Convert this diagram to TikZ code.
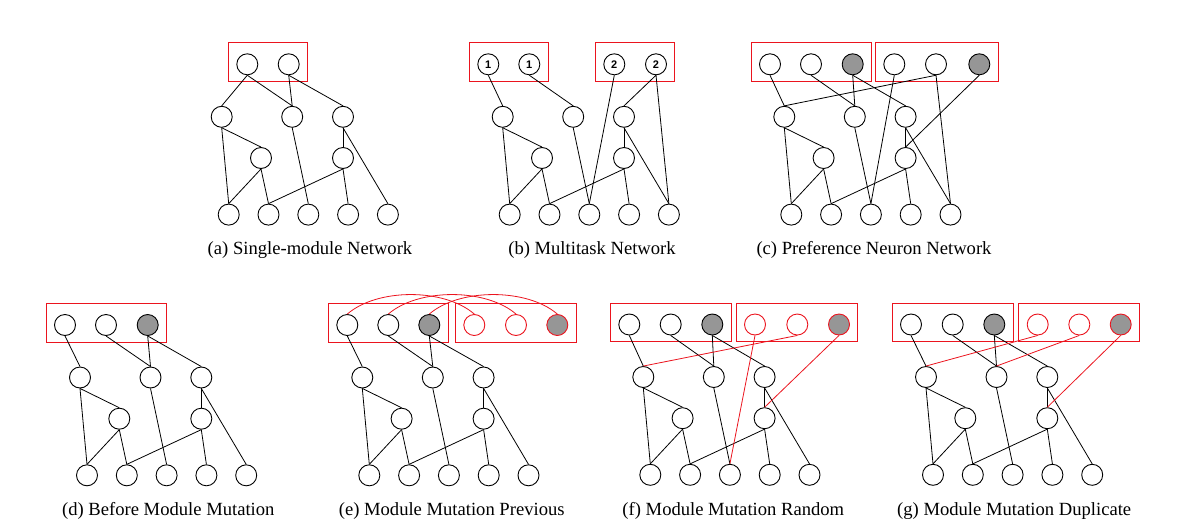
\documentclass[tikz,border=0pt]{standalone}
\usepackage{fontspec}
\setmainfont{Liberation Serif}
\newfontfamily\labfont{Liberation Sans}
\usetikzlibrary{fit}
\definecolor{gfill}{RGB}{150,150,150}
\definecolor{rline}{RGB}{235,20,30}
\tikzset{
  nn/.style={circle, draw, line width=0.9pt, minimum size=21pt, inner sep=0pt},
  rn/.style={nn, draw=rline},
  gn/.style={nn, fill=gfill},
  rgn/.style={nn, draw=rline, fill=gfill},
  rbox/.style={draw=rline, line width=1pt, inner xsep=8pt, inner ysep=8.5pt, yshift=2pt},
  ed/.style={line width=0.8pt},
  redge/.style={line width=0.8pt, draw=rline},
  capt/.style={anchor=base, font=\fontsize{18.6}{22}\selectfont, inner sep=0pt},
  numlab/.style={font=\labfont\bfseries\fontsize{11}{13}\selectfont}
}
\newcommand{\lowernet}[3]{%
  \node[nn] (#1h1) at (#2,#3+52.5) {};
  \node[nn] (#1h2) at (#2+70.5,#3+52.5) {};
  \node[nn] (#1h3) at (#2+121.3,#3+52.5) {};
  \node[nn] (#1m1) at (#2+39.3,#3+93.7) {};
  \node[nn] (#1m2) at (#2+121.3,#3+93.7) {};
  \node[nn] (#1b1) at (#2+7,#3+150.3) {};
  \node[nn] (#1b2) at (#2+46.8,#3+150.3) {};
  \node[nn] (#1b3) at (#2+86.6,#3+150.3) {};
  \node[nn] (#1b4) at (#2+126.4,#3+150.3) {};
  \node[nn] (#1b5) at (#2+166.2,#3+150.3) {};
  \draw[ed] (#1h1.south) -- (#1m1.north);
  \draw[ed] (#1h1.south) -- (#1b1.north);
  \draw[ed] (#1m1.south) -- (#1b1.north);
  \draw[ed] (#1m1.south) -- (#1b2.north);
  \draw[ed] (#1h2.south) -- (#1b3.north);
  \draw[ed] (#1h3.south) -- (#1m2.north);
  \draw[ed] (#1h3.south) -- (#1b5.north);
  \draw[ed] (#1m2.south) -- (#1b2.north);
  \draw[ed] (#1m2.south) -- (#1b4.north);
}
\begin{document}
\begin{tikzpicture}[x=1pt,y=-1pt]
\useasboundingbox (0,0) rectangle (1181,528);
% ---------- (a)
\node[nn] (a1) at (247.3,64.3) {};
\node[nn] (a2) at (288.7,64.3) {};
\node[rbox, fit=(a1)(a2)] (abox) {};
\lowernet{a}{221.7}{64.3}
\draw[ed] (a1.south) -- (ah1.north);
\draw[ed] (a1.south) -- (ah2.north);
\draw[ed] (a2.south) -- (ah2.north);
\draw[ed] (a2.south) -- (ah3.north);
\node[capt] (acap) at (310,254) {(a) Single-module Network};
% ---------- (b)
\node[nn, numlab] (b1) at (488.3,64.3) {1};
\node[nn, numlab] (b2) at (529.3,64.3) {1};
\node[nn, numlab] (b3) at (614.3,64.3) {2};
\node[nn, numlab] (b4) at (656,64.3) {2};
\node[rbox, fit=(b1)(b2)] (bbox1) {};
\node[rbox, fit=(b3)(b4)] (bbox2) {};
\lowernet{b}{502.7}{64.3}
\draw[ed] (b1.south) -- (bh1.north);
\draw[ed] (b2.south) -- (bh2.north);
\draw[ed] (b3.south) -- (bb3.north);
\draw[ed] (b4.south) -- (bh3.north);
\draw[ed] (b4.south) -- (bb5.north);
\node[capt] (bcap) at (592,254) {(b) Multitask Network};
% ---------- (c)
\node[nn] (c1) at (770,64.3) {};
\node[nn] (c2) at (811,64.3) {};
\node[gn] (c3) at (852.7,64.3) {};
\node[nn] (c4) at (894.3,64.3) {};
\node[nn] (c5) at (936,64.3) {};
\node[gn] (c6) at (979.3,64.3) {};
\node[rbox, fit=(c1)(c3)] (cbox1) {};
\node[rbox, fit=(c4)(c6)] (cbox2) {};
\lowernet{c}{784.3}{64.3}
\draw[ed] (c1.south) -- (ch1.north);
\draw[ed] (c2.south) -- (ch2.north);
\draw[ed] (c3.south) -- (ch2.north);
\draw[ed] (c3.south) -- (ch3.north);
\draw[ed] (c4.south) -- (cb3.north);
\draw[ed] (c5.south) -- (ch1.north);
\draw[ed] (c5.south) -- (cb5.north);
\draw[ed] (c6.south) -- (cm2.north);
\node[capt] (ccap) at (874,254) {(c) Preference Neuron Network};
% ---------- (d)
\node[nn] (d1) at (65,325) {};
\node[nn] (d2) at (106,325) {};
\node[gn] (d3) at (147.7,325) {};
\node[rbox, fit=(d1)(d3)] (dbox) {};
\lowernet{d}{80}{325}
\draw[ed] (d1.south) -- (dh1.north);
\draw[ed] (d2.south) -- (dh2.north);
\draw[ed] (d3.south) -- (dh2.north);
\draw[ed] (d3.south) -- (dh3.north);
\node[capt] (dcap) at (168.3,515) {(d) Before Module Mutation};
% ---------- (e)
\node[nn] (e1) at (347.3,325) {};
\node[nn] (e2) at (388.3,325) {};
\node[gn] (e3) at (429.3,325) {};
\node[rn] (e4) at (474.3,325) {};
\node[rn] (e5) at (516,325) {};
\node[rgn] (e6) at (557.3,325) {};
\node[rbox, fit=(e1)(e3)] (ebox1) {};
\node[rbox, fit=(e4)(e6)] (ebox2) {};
\lowernet{e}{362.3}{325}
\draw[ed] (e1.south) -- (eh1.north);
\draw[ed] (e2.south) -- (eh2.north);
\draw[ed] (e3.south) -- (eh2.north);
\draw[ed] (e3.south) -- (eh3.north);
\draw[redge] (e1.north) .. controls +(30,-26) and +(-30,-26) .. (e4.north);
\draw[redge] (e2.north) .. controls +(30,-26) and +(-30,-26) .. (e5.north);
\draw[redge] (e3.north) .. controls +(30,-26) and +(-30,-26) .. (e6.north);
\node[capt] (ecap) at (451.7,515) {(e) Module Mutation Previous};
% ---------- (f)
\node[nn] (f1) at (629.3,324.5) {};
\node[nn] (f2) at (670.7,324.5) {};
\node[gn] (f3) at (712.3,324.5) {};
\node[rn] (f4) at (755,324.5) {};
\node[rn] (f5) at (797.3,324.5) {};
\node[rgn] (f6) at (839,324.5) {};
\node[rbox, fit=(f1)(f3)] (fbox1) {};
\node[rbox, fit=(f4)(f6)] (fbox2) {};
\lowernet{f}{643.3}{324.5}
\draw[ed] (f1.south) -- (fh1.north);
\draw[ed] (f2.south) -- (fh2.north);
\draw[ed] (f3.south) -- (fh2.north);
\draw[ed] (f3.south) -- (fh3.north);
\draw[redge] (f4.south) -- (fb3.north);
\draw[redge] (f5.south) -- (fh1.north);
\draw[redge] (f6.south) -- (fm2.north);
\node[capt] (fcap) at (733.3,515) {(f) Module Mutation Random};
% ---------- (g)
\node[nn] (g1) at (911,324.5) {};
\node[nn] (g2) at (952.7,324.5) {};
\node[gn] (g3) at (994.3,324.5) {};
\node[rn] (g4) at (1037.7,324.5) {};
\node[rn] (g5) at (1079.3,324.5) {};
\node[rgn] (g6) at (1120.7,324.5) {};
\node[rbox, fit=(g1)(g3)] (gbox1) {};
\node[rbox, fit=(g4)(g6)] (gbox2) {};
\lowernet{g}{926}{324.5}
\draw[ed] (g1.south) -- (gh1.north);
\draw[ed] (g2.south) -- (gh2.north);
\draw[ed] (g3.south) -- (gh2.north);
\draw[ed] (g3.south) -- (gh3.north);
\draw[redge] (g4.south) -- (gh1.north);
\draw[redge] (g5.south) -- (gh2.north);
\draw[redge] (g6.south) -- (gm2.north);
\node[capt] (gcap) at (1014.2,515) {(g) Module Mutation Duplicate};
\end{tikzpicture}
\end{document}
